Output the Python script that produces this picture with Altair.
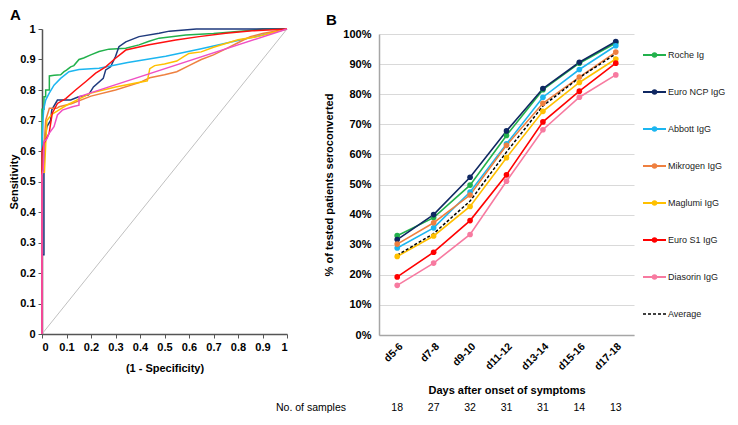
import altair as alt
import pandas as pd

FONT = "Liberation Sans"

# ---------------- Panel A : ROC curves ----------------
roc_names = ["Roche Ig", "Euro NCP IgG", "Abbott IgG", "Mikrogen IgG",
             "Maglumi IgG", "Euro S1 IgG", "Diasorin IgG"]
roc_colors = ["#22b14c", "#1f3a7d", "#1cb6f0", "#ee8040", "#ffc000", "#ff1010", "#f04fc4"]

roche_fpr = [0, 0, 0.008, 0.008, 0.015, 0.015, 0.03, 0.03, 0.05, 0.076, 0.09, 0.10, 0.117, 0.13,
             0.151, 0.17, 0.199, 0.233, 0.273, 0.342, 0.396, 0.437, 0.478, 0.587, 0.70, 0.763, 0.845, 0.90, 1]
roche_tpr = [0, 0.737, 0.737, 0.778, 0.778, 0.80, 0.80, 0.846, 0.848, 0.85, 0.86, 0.865, 0.876, 0.88,
             0.90, 0.905, 0.915, 0.926, 0.934, 0.937, 0.948, 0.96, 0.97, 0.98, 0.985, 0.989, 0.995, 1.0, 1]

ncp_fpr = [0, 0, 0.008, 0.008, 0.02, 0.035, 0.04, 0.063, 0.117, 0.15, 0.19, 0.21, 0.25, 0.26, 0.28,
           0.30, 0.314, 0.342, 0.396, 0.478, 0.52, 0.63, 1]
ncp_tpr = [0, 0.26, 0.26, 0.62, 0.68, 0.70, 0.735, 0.767, 0.767, 0.778, 0.784, 0.81, 0.838, 0.866, 0.876,
           0.91, 0.942, 0.958, 0.975, 0.986, 0.993, 1.0, 1]

abbott_fpr = [0, 0, 0.004, 0.007, 0.015, 0.029, 0.049, 0.076, 0.11, 0.151, 0.233, 0.35, 0.505, 0.65, 0.777, 0.90, 1]
abbott_tpr = [0, 0.63, 0.70, 0.737, 0.767, 0.789, 0.816, 0.838, 0.86, 0.867, 0.871, 0.89, 0.911, 0.935, 0.958, 0.98, 1]

mik_fpr = [0, 0, 0.008, 0.015, 0.03, 0.06, 0.07, 0.12, 0.20, 0.30, 0.40, 0.44, 0.50, 0.55, 0.60, 0.65,
           0.70, 0.75, 0.80, 0.85, 0.90, 1]
mik_tpr = [0, 0.52, 0.61, 0.70, 0.74, 0.74, 0.745, 0.755, 0.78, 0.80, 0.825, 0.84, 0.85, 0.86, 0.88, 0.90,
           0.915, 0.935, 0.955, 0.975, 0.985, 1]

mag_fpr = [0, 0, 0.01, 0.015, 0.02, 0.04, 0.06, 0.10, 0.15, 0.20, 0.30, 0.43, 0.44, 0.46, 0.50, 0.55,
           0.58, 0.60, 0.65, 0.70, 0.76, 0.80, 0.88, 0.95, 1]
mag_tpr = [0, 0.53, 0.53, 0.62, 0.70, 0.72, 0.73, 0.75, 0.77, 0.79, 0.81, 0.83, 0.87, 0.88, 0.885, 0.895,
           0.91, 0.92, 0.925, 0.94, 0.955, 0.965, 0.975, 0.99, 1]

s1_fpr = [0, 0, 0.008, 0.029, 0.042, 0.063, 0.097, 0.137, 0.178, 0.219, 0.26, 0.30, 0.342, 0.437,
          0.546, 0.641, 0.75, 0.858, 1]
s1_tpr = [0, 0.60, 0.625, 0.658, 0.724, 0.756, 0.772, 0.80, 0.827, 0.855, 0.876, 0.904, 0.931, 0.948,
          0.964, 0.975, 0.986, 0.994, 1]

dia_fpr = [0, 0, 0.005, 0.008, 0.02, 0.029, 0.049, 0.063, 0.083, 0.124, 0.151, 0.151, 0.192, 1]
dia_tpr = [0, 0.52, 0.54, 0.63, 0.64, 0.658, 0.68, 0.718, 0.734, 0.745, 0.75, 0.778, 0.789, 1]

roc_curves = [(roche_fpr, roche_tpr), (ncp_fpr, ncp_tpr), (abbott_fpr, abbott_tpr),
              (mik_fpr, mik_tpr), (mag_fpr, mag_tpr), (s1_fpr, s1_tpr), (dia_fpr, dia_tpr)]

roc_ticks = [0, 0.1, 0.2, 0.3, 0.4, 0.5, 0.6, 0.7, 0.8, 0.9, 1]

# ---------------- Panel B : seroconversion ----------------
days = ["d5-6", "d7-8", "d9-10", "d11-12", "d13-14", "d15-16", "d17-18"]
roche = [33.0, 39.0, 49.8, 66.3, 81.5, 90.3, 97.0]
euro_ncp = [31.7, 40.0, 52.4, 67.8, 81.9, 90.6, 97.5]
abbott = [28.9, 35.6, 47.5, 63.5, 79.0, 88.2, 96.1]
mikrogen = [30.2, 37.3, 46.5, 63.0, 77.0, 85.7, 94.0]
maglumi = [26.1, 32.9, 42.7, 58.9, 74.3, 83.9, 91.7]
euro_s1 = [19.3, 27.5, 38.0, 53.2, 70.8, 81.0, 90.3]
diasorin = [16.5, 23.9, 33.4, 51.1, 68.2, 79.0, 86.4]
average = [26.5, 33.7, 44.5, 60.8, 76.1, 85.5, 93.4]
samples = [18, 27, 32, 31, 31, 14, 13]

b_names = ["Roche Ig", "Euro NCP IgG", "Abbott IgG", "Mikrogen IgG",
           "Maglumi IgG", "Euro S1 IgG", "Diasorin IgG"]
b_colors = ["#22b14c", "#0f2862", "#1cb6f0", "#ee8040", "#ffc000", "#ff0000", "#f77aa0"]
b_series = [roche, euro_ncp, abbott, mikrogen, maglumi, euro_s1, diasorin]
legend_names = b_names + ["Average"]
pct_ticks = [0, 10, 20, 30, 40, 50, 60, 70, 80, 90, 100]

# ---------------- build tables ----------------
roc_rows = []
for name, (fx, fy) in zip(roc_names, roc_curves):
    for i, (a, b) in enumerate(zip(fx, fy)):
        roc_rows.append({"assay": name, "fpr": a, "tpr": b, "i": i})
roc_df = pd.DataFrame(roc_rows)
diag_df = pd.DataFrame({"fpr": [0, 1], "tpr": [0, 1]})

b_rows = []
for name, vals in zip(b_names, b_series):
    for d, v in zip(days, vals):
        b_rows.append({"assay": name, "day": d, "pct": v})
b_df = pd.DataFrame(b_rows)
avg_df = pd.DataFrame({"day": days, "pct": average})
n_df = pd.DataFrame({"day": days, "n": [str(s) for s in samples]})
leg_df = pd.DataFrame({"assay": b_names})
leg_avg_df = pd.DataFrame({"assay": ["Average"]})

# ---------------- Panel A chart ----------------
axA = dict(labelFont=FONT, labelFontWeight="bold", labelFontSize=11, labelColor="black",
           titleFont=FONT, titleFontWeight="bold", titleFontSize=11, titleColor="black",
           domainColor="#555555", domainWidth=1.5, tickColor="#555555", tickSize=4, grid=False,
           format="~g")

xA = alt.X("fpr:Q", scale=alt.Scale(domain=[0, 1], nice=False),
           axis=alt.Axis(values=roc_ticks, title="(1 - Specificity)", titlePadding=10, labelPadding=3, **axA))
yA = alt.Y("tpr:Q", scale=alt.Scale(domain=[0, 1], nice=False),
           axis=alt.Axis(values=roc_ticks, title="Sensitivity", titlePadding=0, labelPadding=3, **axA))

diag = alt.Chart(diag_df).mark_line(color="#c0c0c0", strokeWidth=1).encode(x=xA, y=yA)
roc = alt.Chart(roc_df).mark_line(strokeWidth=1.5).encode(
    x=xA, y=yA,
    color=alt.Color("assay:N", scale=alt.Scale(domain=roc_names, range=roc_colors), legend=None),
    detail="assay:N",
    order=alt.Order("i:Q"),
)
panelA = alt.layer(diag, roc).properties(
    width=245, height=305,
    title=alt.TitleParams("A", anchor="start", frame="group", dx=-32, offset=0,
                          font=FONT, fontSize=15, fontWeight="bold", color="black"),
)

# ---------------- Panel B chart ----------------
axB_common = dict(labelFont=FONT, labelFontWeight="bold", labelColor="black",
                  titleFont=FONT, titleFontWeight="bold", titleColor="black",
                  domainColor="#a6a6a6", domainWidth=1.5, ticks=False)

xB = alt.X("day:N", sort=days, scale=alt.Scale(domain=days),
           axis=alt.Axis(title="Days after onset of symptoms", labelAngle=-45, labelFontSize=10.5,
                         titleFontSize=11, labelPadding=6, titlePadding=13, grid=False, **axB_common))
yB = alt.Y("pct:Q", scale=alt.Scale(domain=[0, 100], nice=False, range=[306, 5]),
           axis=alt.Axis(values=pct_ticks, labelExpr="datum.value + '%'", title="% of tested patients seroconverted",
                         labelFontSize=11, titleFontSize=11, labelPadding=8, titlePadding=8,
                         grid=True, gridColor="#d9d9d9", gridWidth=1, **axB_common))

colB = alt.Color("assay:N", scale=alt.Scale(domain=b_names, range=b_colors), legend=None)

linesB = alt.Chart(b_df).mark_line(strokeWidth=1.6).encode(x=xB, y=yB, color=colB)
ptsB = alt.Chart(b_df).mark_circle(size=32, opacity=1).encode(x=xB, y=yB, color=colB)
avgB = alt.Chart(avg_df).mark_line(color="black", strokeWidth=1.5, strokeDash=[3, 2]).encode(x=xB, y=yB)
countsB = alt.Chart(n_df).mark_text(font=FONT, fontSize=10.5, color="black").encode(
    x=xB, y=alt.value(379), text="n:N")
labelB = alt.Chart(n_df.head(1)).mark_text(font=FONT, fontSize=10.5, color="black", align="right").encode(
    x=alt.value(-33), y=alt.value(379), text=alt.value("No. of samples"))

mainB = alt.layer(linesB, avgB, ptsB, countsB, labelB)

ly = alt.Y("assay:N", axis=None, scale=alt.Scale(type="point", domain=legend_names, range=[26, 285], padding=0))
leg_rule = alt.Chart(leg_df).mark_rule(strokeWidth=2).encode(
    y=ly, x=alt.value(264), x2=alt.value(287), color=colB)
leg_pt = alt.Chart(leg_df).mark_circle(size=30, opacity=1).encode(
    y=ly, x=alt.value(275.5), color=colB)
leg_avg = alt.Chart(leg_avg_df).mark_rule(strokeWidth=1.5, strokeDash=[3, 2], color="black").encode(
    y=ly, x=alt.value(264), x2=alt.value(287))
leg_txt = alt.Chart(pd.DataFrame({"assay": legend_names})).mark_text(
    font=FONT, fontSize=9.0, color="#222222", align="left").encode(
    y=ly, x=alt.value(289), text="assay:N")
legendB = alt.layer(leg_rule, leg_avg, leg_pt, leg_txt)

panelB = alt.layer(mainB, legendB).resolve_scale(y="independent").properties(
    width=255, height=306,
    title=alt.TitleParams("B", anchor="start", frame="group", dx=-53, offset=0,
                          font=FONT, fontSize=15, fontWeight="bold", color="black"),
)

chart = alt.hconcat(panelA, panelB, spacing=92, bounds="flush").resolve_scale(color="independent").properties(
    padding=0
).configure_view(stroke=None)

chart.save("out.html", embed_options={"renderer": "svg", "actions": False})
